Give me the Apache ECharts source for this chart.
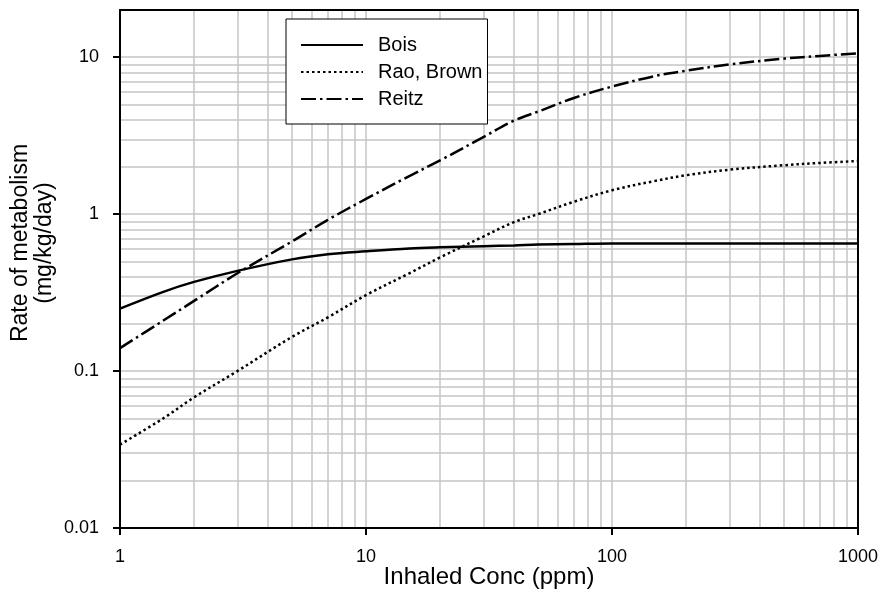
<!DOCTYPE html>
<html><head><meta charset="utf-8">
<script src="https://cdn.jsdelivr.net/npm/echarts@6/dist/echarts.min.js"></script>
<style>html,body{margin:0;padding:0;background:#fff}#c{width:883px;height:592px}</style>
</head><body><div id="c"></div>
<script>
// Inhaled concentration (ppm)
const conc = [1, 1.5, 2, 3, 5, 7, 10, 15, 20, 30, 40, 50, 70, 100, 150, 200, 300, 500, 700, 1000];
// Rate of metabolism (mg/kg/day)
const bois = [0.25, 0.32, 0.37, 0.435, 0.515, 0.555, 0.58, 0.605, 0.615, 0.625, 0.632, 0.64, 0.645, 0.65, 0.65, 0.65, 0.65, 0.65, 0.65, 0.65];
const raoBrown = [0.034, 0.05, 0.068, 0.1, 0.165, 0.22, 0.305, 0.42, 0.53, 0.72, 0.89, 1.0, 1.2, 1.42, 1.63, 1.77, 1.92, 2.05, 2.12, 2.18];
const reitz = [0.14, 0.21, 0.28, 0.42, 0.67, 0.92, 1.25, 1.75, 2.2, 3.1, 3.95, 4.5, 5.5, 6.5, 7.6, 8.2, 9.0, 9.8, 10.2, 10.6];
const seriesNames = ['Bois', 'Rao, Brown', 'Reitz'];
// axis ticks and grid lines
const xTickValues = [1, 10, 100, 1000];
const yTickValues = [0.01, 0.1, 1, 10];
const xGridValues = [2,3,4,5,6,7,8,9,10,20,30,40,50,60,70,80,90,100,200,300,400,500,600,700,800,900];
const yGridValues = [0.02,0.03,0.04,0.05,0.06,0.07,0.08,0.09,0.1,0.2,0.3,0.4,0.5,0.6,0.7,0.8,0.9,1,2,3,4,5,6,7,8,9,10];

const FONT = '"Liberation Sans", Arial, sans-serif';
const chart = echarts.init(document.getElementById('c'), null, {renderer: 'canvas'});
const pts = vals => conc.map((c, i) => [c, vals[i]]);
const gridColor = '#c4c4c4';
const fmt = v => String(Math.round(v * 1000) / 1000);

const baseLine = {type: 'line', showSymbol: false, symbol: 'none', smooth: 0.35, z: 5, animation: false, color: '#000', itemStyle: {opacity: 0}};

chart.setOption({
  backgroundColor: '#fff',
  animation: false,
  grid: {left: 120, top: 10, right: 25, bottom: 64, show: false, outerBoundsMode: 'none', containLabel: false},
  legend: {
    data: seriesNames, orient: 'vertical', left: 286, top: 19,
    backgroundColor: '#fff', borderColor: '#000', borderWidth: 1,
    padding: [16, 5, 15, 14], itemWidth: 62, itemHeight: 14, itemGap: 7,
    itemStyle: {opacity: 0},
    textStyle: {fontSize: 20, fontFamily: FONT, color: '#000', padding: [0, 0, 0, 10]},
    z: 20
  },
  xAxis: [{
    type: 'log', logBase: 10, min: 1, max: 1000, z: 10,
    name: 'Inhaled Conc (ppm)', nameLocation: 'middle', nameGap: 37, nameMoveOverlap: false,
    nameTextStyle: {fontSize: 24, fontFamily: FONT, color: '#000'},
    axisLine: {show: true, lineStyle: {color: '#000', width: 2}},
    axisTick: {show: true, inside: false, length: 7, lineStyle: {color: '#000', width: 2}, customValues: xTickValues},
    axisLabel: {fontSize: 18, fontFamily: FONT, color: '#000', margin: 20, customValues: xTickValues, formatter: fmt},
    splitLine: {show: false}
  }, {
    type: 'log', logBase: 10, min: 1, max: 1000, position: 'top', z: 10,
    axisLine: {show: true, lineStyle: {color: '#000', width: 2}},
    axisTick: {show: false}, axisLabel: {show: false}, splitLine: {show: false}
  }],
  yAxis: [{
    type: 'log', logBase: 10, min: 0.01, max: 20, z: 10,
    axisLine: {show: true, lineStyle: {color: '#000', width: 2}},
    axisTick: {show: true, inside: false, length: 7, lineStyle: {color: '#000', width: 2}, customValues: yTickValues},
    axisLabel: {fontSize: 18, fontFamily: FONT, color: '#000', margin: 21, customValues: yTickValues, formatter: fmt},
    splitLine: {show: false}
  }, {
    type: 'log', logBase: 10, min: 0.01, max: 20, position: 'right', z: 10,
    axisLine: {show: true, lineStyle: {color: '#000', width: 2}},
    axisTick: {show: false}, axisLabel: {show: false}, splitLine: {show: false}
  }],
  graphic: [{
    type: 'text', x: 33, y: 243, rotation: Math.PI / 2,
    style: {text: 'Rate of metabolism\n(mg/kg/day)', font: '23px ' + FONT, fill: '#000', align: 'center', verticalAlign: 'middle', lineHeight: 24}
  }],
  series: [
    {
      name: 'gridlines', type: 'line', data: [], z: 1, silent: true,
      markLine: {
        silent: true, symbol: ['none', 'none'], animation: false,
        label: {show: false},
        lineStyle: {color: gridColor, width: 1.5, type: 'solid'},
        emphasis: {disabled: true},
        data: xGridValues.map(v => ({xAxis: v})).concat(yGridValues.map(v => ({yAxis: v})))
      }
    },
    Object.assign({}, baseLine, {name: seriesNames[0], data: pts(bois), lineStyle: {color: '#000', width: 2.5, type: 'solid'}}),
    Object.assign({}, baseLine, {name: seriesNames[1], data: pts(raoBrown), lineStyle: {color: '#000', width: 2.5, type: [2.5, 3]}}),
    Object.assign({}, baseLine, {name: seriesNames[2], data: pts(reitz), lineStyle: {color: '#000', width: 2.5, type: [15, 4, 2.5, 4]}})
  ]
});
</script>
</body></html>
